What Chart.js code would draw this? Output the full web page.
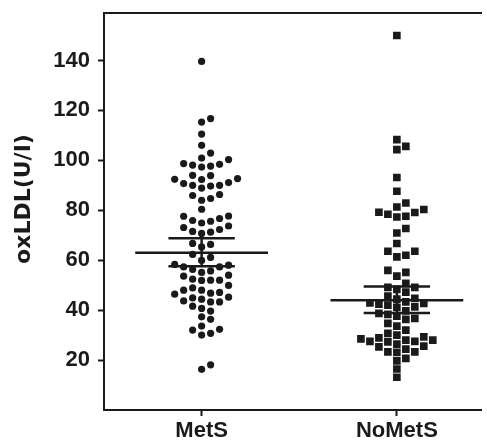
<!DOCTYPE html>
<html>
<head>
<meta charset="utf-8">
<script src="https://cdn.jsdelivr.net/npm/chart.js@4.4.1/dist/chart.umd.min.js"></script>
<style>
  html, body { margin: 0; padding: 0; background: #fff; }
  #wrap { width: 487px; height: 440px; }
</style>
</head>
<body>
<div id="wrap"><canvas id="myChart"></canvas></div>
<script>
// groups along the x axis
const groups = ["MetS", "NoMetS"];
const yTicks = [20, 40, 60, 80, 100, 120, 140];

// oxLDL (U/l) per subject
const metsValues = [
    139.6, 116.7, 115.3, 110.5, 106, 102.9, 100.9, 100.3, 98.7, 98.4, 98.1, 97.7, 97.3,
    94, 93.9, 92.7, 92.4, 92.3, 91.1, 90.7, 90, 90, 89.7, 88.9, 86.3, 85.9, 84.7, 84, 80.4,
    77.7, 77.6, 76.7, 75.9, 75.6, 74.9, 73.7, 73.1, 72.3, 71.5, 71.2, 70.7,
    66.7, 66.3, 65.3, 62.3, 61.1, 59.9, 58.3, 58, 57.3, 57.3,
    56.3, 55.7, 55.1, 54, 53.6, 52.4, 52, 52, 51.9, 49.9, 48.9,
    48, 48, 47.1, 46.8, 46.4, 45.2, 44.9, 44.4, 43.3, 43.3, 43.7, 41.6, 40.7, 39.6,
    37.3, 36.3, 33.6, 32.3, 32, 30.7, 30, 18.1, 16.3
];
const noMetsValues = [
    150, 108.3, 105.6, 104.3, 93.1, 87.6, 82.9, 81.3, 80.3, 79.2, 79.1, 78.4, 77.6, 77.3,
    72.7, 70.9, 66.7, 63.6, 63.6, 62, 61.3, 55.9, 55.1, 53.6,
    50.7, 49.1, 49.1, 48.3, 47.2, 45.6,
    44.7, 44.4, 43.3, 42.9, 42.7, 42.4, 42, 41.3, 41.1,
    39.7, 38.7, 38.3, 37.6, 36.7, 36.3, 34.7, 33.6, 32,
    30.7, 30, 27.3, 29.3, 28.9, 28.5, 28, 28, 27.5, 27.5,
    26.4, 25.6, 25.3, 24.4, 23.3, 23.3, 23.1, 20.7, 19.7, 16.4, 13.1
];

// mean line and the bars above / below it
const means = [63.0, 44.0];
const upperBars = [68.8, 49.5];
const lowerBars = [57.6, 38.8];

const ink = "#1a1a1a";
const tickFont = { family: "'Liberation Sans', Arial, sans-serif", size: 22, weight: "bold" };

// simple beeswarm: sorted values go to the nearest free column
const SLOT = 0.046;
const MIN_GAP = 3.2;
function swarm(values, center) {
    const sorted = values.slice().sort((a, b) => a - b);
    const columns = {};
    return sorted.map(v => {
        for (let k = 0; ; k++) {
            const slot = k === 0 ? 0 : (k % 2 ? (k + 1) / 2 : -k / 2);
            const col = columns[slot] || (columns[slot] = []);
            if (col.every(w => Math.abs(w - v) >= MIN_GAP)) {
                col.push(v);
                return { x: center + slot * SLOT, y: v };
            }
        }
    });
}

const lineSets = [];
groups.forEach((g, i) => {
    lineSets.push({
        label: g + " mean",
        data: [{ x: i - 0.34, y: means[i] }, { x: i + 0.34, y: means[i] }],
        showLine: true, borderColor: ink, borderWidth: 2.5, pointRadius: 0
    });
    lineSets.push({
        label: g + " bars",
        data: [
            { x: i - 0.17, y: upperBars[i] }, { x: i + 0.17, y: upperBars[i] }, { x: i, y: null },
            { x: i, y: upperBars[i] }, { x: i, y: lowerBars[i] }, { x: i, y: null },
            { x: i - 0.17, y: lowerBars[i] }, { x: i + 0.17, y: lowerBars[i] }
        ],
        showLine: true, spanGaps: false, borderColor: ink, borderWidth: 2.5, pointRadius: 0
    });
});

const yTitle = {
    id: "yTitle",
    afterDraw(chart) {
        const ctx = chart.ctx;
        ctx.save();
        ctx.translate(24, 199);
        ctx.rotate(-Math.PI / 2);
        ctx.font = "bold 22px 'DejaVu Sans'";
        ctx.fillStyle = ink;
        ctx.textAlign = "center";
        ctx.textBaseline = "middle";
        ctx.fillText("oxLDL(U/I)", 0, 0);
        ctx.restore();
    }
};

new Chart(document.getElementById("myChart"), {
    type: "scatter",
    data: {
        datasets: lineSets.concat([
            {
                label: groups[0],
                data: swarm(metsValues, 0),
                pointStyle: "circle", pointRadius: 3.6, pointHoverRadius: 3.6,
                pointBorderWidth: 0, backgroundColor: ink
            },
            {
                label: groups[1],
                data: swarm(noMetsValues, 1),
                pointStyle: "rect", pointRadius: 5.4, pointHoverRadius: 5.4,
                pointBorderWidth: 0, backgroundColor: ink
            }
        ])
    },
    options: {
        responsive: true,
        maintainAspectRatio: false,
        animation: false,
        layout: { padding: { top: 13, right: 0, bottom: 0, left: 0 } },
        plugins: { legend: { display: false }, tooltip: { enabled: false } },
        scales: {
            x: {
                type: "linear",
                position: "bottom",
                min: -0.5,
                max: 1.434,
                afterBuildTicks: scale => { scale.ticks = groups.map((g, i) => ({ value: i })); },
                afterFit: scale => { scale.height = 30; },
                ticks: {
                    callback: v => groups[v],
                    font: tickFont, color: ink, padding: 2, maxRotation: 0
                },
                grid: { drawOnChartArea: false, tickLength: 6, tickWidth: 2, tickColor: ink },
                border: { color: ink, width: 2 }
            },
            xTop: {
                type: "linear",
                position: "top",
                min: -0.5,
                max: 1.434,
                afterFit: scale => { scale.height = 0; },
                ticks: { display: false },
                grid: { drawOnChartArea: false, drawTicks: false },
                border: { color: ink, width: 2 }
            },
            y: {
                type: "linear",
                min: 0,
                max: 159,
                afterBuildTicks: scale => { scale.ticks = yTicks.map(v => ({ value: v })); },
                afterFit: scale => {
                    scale.width = 104;
                    scale.paddingTop = 0;
                    scale.paddingBottom = 0;
                },
                ticks: { font: tickFont, color: ink, padding: 8 },
                grid: { drawOnChartArea: false, tickLength: 6, tickWidth: 2, tickColor: ink },
                border: { color: ink, width: 2 }
            }
        }
    },
    plugins: [yTitle]
});
</script>
</body>
</html>
